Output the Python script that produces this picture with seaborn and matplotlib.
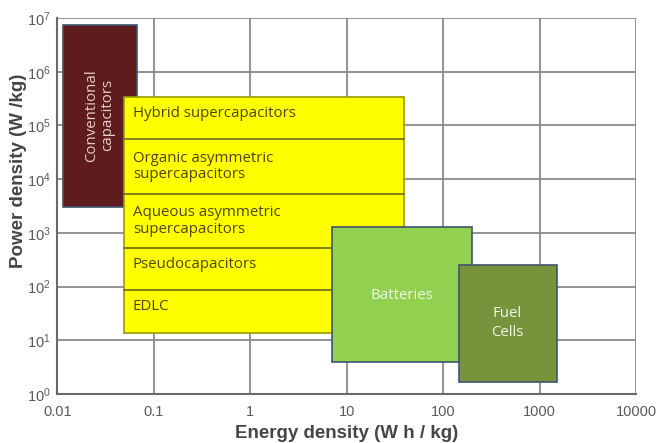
import matplotlib
matplotlib.use("Agg")
import matplotlib.pyplot as plt
import seaborn as sns
import numpy as np

# ---- data ----
devices = ["Conventional\ncapacitors", "Supercapacitors", "Batteries", "Fuel\nCells"]
energy_low = [0.0114, 0.049, 7.0, 145.0]
energy_high = [0.0667, 39.0, 197.0, 1500.0]
power_low = [3000.0, 13.5, 3.9, 1.66]
power_high = [7.4e6, 3.4e5, 1300.0, 250.0]
colors = ["#5E1C1C", "#FFFF00", "#92D050", "#77933C"]

# sub-bands inside the supercapacitor box (bottom -> top boundaries)
band_labels = ["EDLC", "Pseudocapacitors", "Aqueous asymmetric\nsupercapacitors",
               "Organic asymmetric\nsupercapacitors", "Hybrid supercapacitors"]
band_edges = [13.5, 86.0, 520.0, 5300.0, 56000.0, 3.4e5]

x_ticks = [0.01, 0.1, 1, 10, 100, 1000, 10000]
x_tick_labels = ["0.01", "0.1", "1", "10", "100", "1000", "10000"]
y_ticks = [1, 10, 100, 1e3, 1e4, 1e5, 1e6, 1e7]
y_tick_labels = [r"$10^{%d}$" % i for i in range(8)]

sns.set_style("white")
plt.rcParams['font.family'] = ['Liberation Sans', 'DejaVu Sans']
plt.rcParams['mathtext.fontset'] = 'custom'
plt.rcParams['mathtext.rm'] = 'Liberation Sans'
plt.rcParams['mathtext.it'] = 'Liberation Sans'

fig = plt.figure(figsize=(6.6, 4.43), dpi=100)
ax = fig.add_axes([0.0871, 0.1106, 0.8765, 0.8488])
ax.set_xscale("log")
ax.set_yscale("log")
ax.set_xlim(0.01, 10000)
ax.set_ylim(1, 1e7)

ax.set_axisbelow(True)
ax.grid(True, which="major", color="#8a8a8a", linewidth=1.3)

edge = "#3E5470"
for i, name in enumerate(devices):
    w = energy_high[i] - energy_low[i]
    h = power_high[i] - power_low[i]
    ec = edge if i != 1 else "#9a9a00"
    ax.bar(energy_low[i], h, width=w, bottom=power_low[i], align="edge",
           color=colors[i], edgecolor=ec, linewidth=1.2, zorder=2 + i)

# band dividers
for e in band_edges[1:-1]:
    ax.plot([energy_low[1], energy_high[1]], [e, e], color="#6b6b20", lw=1.2, zorder=3.5)

# band labels
lab_font = ['Open Sans', 'DejaVu Sans']
fs = 10.8
for i, lab in enumerate(band_labels):
    yc = np.sqrt(band_edges[i] * band_edges[i + 1])
    if i == 0:
        yc = 43
    if i == 1:
        yc = 263
    if i == 4:
        yc = 1.7e5
    ax.text(0.0605, yc, lab, ha="left", va="center", fontsize=fs,
            color="#4d4500", family=lab_font, zorder=10, linespacing=1.15)

ax.text(0.0275, 1.55e5, devices[0], rotation=90, ha="center", va="center",
        fontsize=fs, color="#E6CFCF", family=lab_font, zorder=10, linespacing=1.05)
ax.text(37, 69, devices[2], ha="center", va="center", fontsize=fs,
        color="#F0F8E8", family=lab_font, zorder=10)
ax.text(465, 21, devices[3], ha="center", va="center", fontsize=fs,
        color="#F0F8E8", family=lab_font, zorder=10, linespacing=1.4)

ax.set_xticks(x_ticks)
ax.set_xticklabels(x_tick_labels)
ax.set_yticks(y_ticks)
ax.set_yticklabels(y_tick_labels)
ax.minorticks_off()
ax.tick_params(axis="both", length=0, labelsize=10.5, labelcolor="#5a5a5a")
ax.tick_params(axis="x", pad=8)
ax.tick_params(axis="y", pad=5)

for s in ["top", "right"]:
    ax.spines[s].set_visible(False)
for s in ["left", "bottom"]:
    ax.spines[s].set_color("#6a6a6a")
    ax.spines[s].set_linewidth(1.5)

ax.set_xlabel("Energy density (W h / kg)", fontsize=13.5, fontweight="bold",
              color="#454545", labelpad=4)
ax.set_ylabel("Power density (W /kg)", fontsize=13.5, fontweight="bold",
              color="#454545")
ax.yaxis.set_label_coords(-0.053, 0.593)

fig.savefig("out.png", dpi=100)
